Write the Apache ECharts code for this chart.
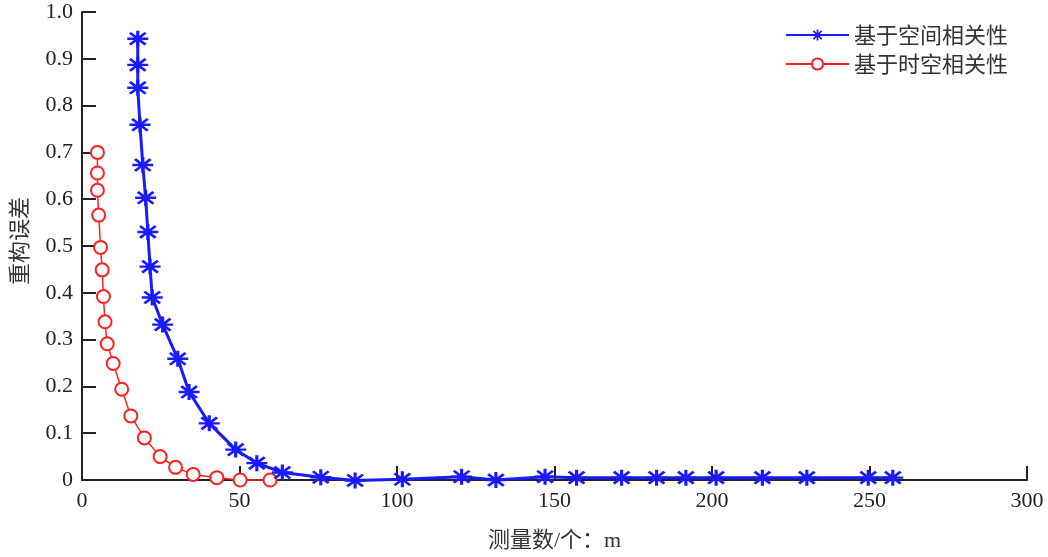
<!DOCTYPE html>
<html>
<head>
<meta charset="utf-8">
<script src="https://cdn.jsdelivr.net/npm/echarts@6/dist/echarts.min.js"></script>
<style>
html,body{margin:0;padding:0;background:#fff;}
#chart{width:1048px;height:557px;}
</style>
</head>
<body>
<div id="chart"></div>
<script>
// Series names
var seriesNames = ['基于空间相关性', '基于时空相关性'];

// Spatial-correlation series (blue, star markers)
var spatialX = [17.7, 17.7, 17.7, 18.4, 19.3, 20.2, 20.9, 21.6, 22.3, 25.6, 30.4, 34.0, 40.4, 48.8, 55.5, 63.6, 75.8, 86.7, 101.7, 120.5, 131.4, 147.0, 157.0, 171.3, 182.4, 191.7, 201.3, 216.0, 230.1, 249.6, 257.4];
var spatialY = [0.943, 0.887, 0.838, 0.759, 0.673, 0.603, 0.530, 0.456, 0.390, 0.332, 0.259, 0.188, 0.121, 0.065, 0.036, 0.016, 0.006, -0.001, 0.0015, 0.007, 0.0, 0.007, 0.005, 0.005, 0.005, 0.005, 0.005, 0.005, 0.005, 0.005, 0.005];

// Spatio-temporal-correlation series (red, circle markers)
var temporalX = [4.9, 4.9, 4.9, 5.3, 5.9, 6.4, 6.8, 7.3, 8.0, 9.9, 12.6, 15.5, 19.8, 24.8, 29.7, 35.3, 42.8, 50.2, 59.7];
var temporalY = [0.700, 0.656, 0.619, 0.566, 0.497, 0.449, 0.392, 0.338, 0.291, 0.249, 0.194, 0.137, 0.090, 0.050, 0.027, 0.012, 0.005, 0.0, 0.0];

// Axis tick labels
var xTickLabels = ['0', '50', '100', '150', '200', '250', '300'];
var yTickLabels = ['0', '0.1', '0.2', '0.3', '0.4', '0.5', '0.6', '0.7', '0.8', '0.9', '1.0'];

var xName = '测量数/个：m';
var yName = '重构误差';

function zip(xs, ys) {
  var out = [];
  for (var i = 0; i < xs.length; i++) out.push([xs[i], ys[i]]);
  return out;
}

var starPath = 'path://M0 8.5 H20 V11.5 H0 Z M8.5 0 H11.5 V20 H8.5 Z M1.5 3.6 L3.6 1.5 L18.5 16.4 L16.4 18.5 Z M16.4 1.5 L18.5 3.6 L3.6 18.5 L1.5 16.4 Z M6.5 6.5 H13.5 V13.5 H6.5 Z';

var axisColor = '#222';
var serif = '"Liberation Serif", "Times New Roman", serif';
var cjk = '"Noto Sans CJK SC", sans-serif';
var mixed = '"Liberation Serif", "Noto Sans CJK SC", serif';

var chart = echarts.init(document.getElementById('chart'), null, {renderer: 'canvas'});
chart.setOption({
  animation: false,
  backgroundColor: '#fff',
  grid: {left: 82, right: 21, top: 12, bottom: 75, containLabel: false},
  legend: {
    orient: 'vertical',
    left: 780,
    top: 19,
    itemWidth: 63,
    itemHeight: 14,
    itemGap: 7,
    data: seriesNames,
    textStyle: {fontFamily: cjk, fontSize: 22, color: '#333', lineHeight: 22}
  },
  xAxis: {
    type: 'value',
    min: 0, max: 300, interval: 50,
    name: xName,
    nameLocation: 'middle',
    nameGap: 50,
    nameTextStyle: {fontFamily: mixed, fontSize: 22, color: '#333'},
    axisLine: {show: true, lineStyle: {color: axisColor, width: 2}},
    axisTick: {show: true, inside: true, length: 14, lineStyle: {color: axisColor, width: 2}},
    axisLabel: {
      fontFamily: serif, fontSize: 22, color: '#222', margin: 10,
      formatter: function (v) { return xTickLabels[Math.round(v / 50)]; }
    },
    splitLine: {show: false}
  },
  yAxis: {
    type: 'value',
    min: 0, max: 1, interval: 0.1,
    name: yName,
    nameLocation: 'middle',
    nameGap: 52,
    nameTextStyle: {fontFamily: cjk, fontSize: 22, color: '#333', padding: [0, 0, 0, 10]},
    axisLine: {show: true, lineStyle: {color: axisColor, width: 2}},
    axisTick: {show: true, inside: true, length: 14, lineStyle: {color: axisColor, width: 2}},
    axisLabel: {
      fontFamily: serif, fontSize: 22, color: '#222', margin: 9, padding: [8, 0, 0, 0],
      formatter: function (v) { return yTickLabels[Math.round(v * 10)]; }
    },
    splitLine: {show: false}
  },
  series: [
    {
      name: seriesNames[0],
      type: 'line',
      data: zip(spatialX, spatialY),
      symbol: starPath,
      symbolSize: [21, 16],
      showAllSymbol: true,
      clip: false,
      lineStyle: {color: '#1a1aff', width: 3},
      itemStyle: {color: '#1a1aff', borderWidth: 0},
      z: 3
    },
    {
      name: seriesNames[1],
      type: 'line',
      data: zip(temporalX, temporalY),
      symbol: 'emptyCircle',
      symbolSize: 13,
      showAllSymbol: true,
      clip: false,
      lineStyle: {color: '#ff2020', width: 1.5},
      itemStyle: {color: '#ff2020', borderColor: '#ff2020', borderWidth: 1.5},
      z: 2
    }
  ]
});
</script>
</body>
</html>
